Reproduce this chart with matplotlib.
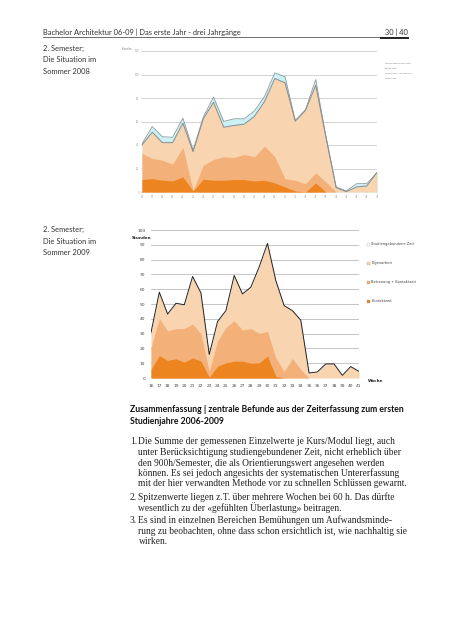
"""
Seite 30 aus dem Bericht: zwei gestapelte Flaechendiagramme (Sommer 2008/2009)
und die Zusammenfassung darunter.
"""

from matplotlib import pyplot as plt

# Farben der Schichten
layer_colors = {'kontakt': '#ec8420', 'betreuung': '#f3b179',
                'eigen': '#f9d4b0', 'studgeb': '#c9f1f6'}

# Sommer 2008 - Oberkanten der gestapelten Schichten (Stunden)
weeks_2008 = list(range(16, 40))
total_2008 = [41, 55.7, 47, 46.6, 62.9, 35.7, 63.7, 80.9, 60, 62.3, 62.3, 69,
              81.4, 101.4, 98, 60.9, 70, 95.7, 47, 4.3, 0.9, 7.1, 7.1, 16.6]
eigen_2008 = [40, 50.9, 42, 42, 58.6, 34.3, 62.3, 76.3, 55.1, 56.6, 57.7, 64.3,
              77.1, 96.6, 92.9, 60.3, 69.4, 90.9, 47, 3.7, 0.3, 4.3, 5.1, 16.6]
betreuung_2008 = [32.9, 28.6, 27.1, 23.7, 38, 1.4, 22.9, 27.7, 30, 29.4, 32,
                  30, 39.1, 30, 11.4, 10, 7.1, 16.3, 8.6, 0, 0, 0, 0, 0]
kontakt_2008 = [10.6, 11.4, 10, 9.4, 12.9, 0.9, 10.9, 10, 10, 10.6, 10.6, 9.4,
                10, 7.7, 4.3, 0.9, 0, 7.7, 0, 0, 0, 0, 0, 0]

# Sommer 2009
weeks_2009 = list(range(16, 42))
total_2009 = [30.7, 58, 43.2, 50.5, 49.5, 68.6, 57.5, 15.9, 38.2, 45.5, 69.3,
              56.8, 61.4, 75, 91, 65.9, 48.9, 45.5, 39.1, 3.4, 4.1, 9.5, 9.5,
              1.8, 7.7, 4.5]
betreuung_2009 = [20.5, 40.2, 31.8, 33.4, 33.4, 36.4, 30, 4.5, 25, 34.1, 38.6,
                  32.5, 33.4, 30.2, 31.4, 13.6, 4.5, 13.2, 5.7, 0, 0, 0, 0, 0,
                  0, 0]
kontakt_2009 = [5.7, 15.2, 11.8, 13, 10.7, 13.6, 11.4, 0.5, 8, 10.2, 11.4,
                11.4, 10, 10.2, 14.8, 1.1, 0, 0, 0, 0, 0, 0, 0, 0, 0, 0]

legend_labels = ['Studiengebundene Zeit', 'Eigenarbeit',
                 'Betreuung + Kontaktzeit', 'Kontaktzeit']

header = 'Bachelor Architektur 06-09 | Das erste Jahr - drei Jahrgänge'
heading = ['Zusammenfassung | zentrale Befunde aus der Zeiterfassung zum ersten',
           'Studienjahre 2006-2009']
items = [
    ['Die Summe der gemessenen Einzelwerte je Kurs/Modul liegt, auch',
     'unter Berücksichtigung studiengebundener Zeit, nicht erheblich über',
     'den 900h/Semester, die als Orientierungswert angesehen werden',
     'können. Es sei jedoch angesichts der systematischen Untererfassung',
     'mit der hier verwandten Methode vor zu schnellen Schlüssen gewarnt.'],
    ['Spitzenwerte liegen z.T. über mehrere Wochen bei 60 h. Das dürfte',
     'wesentlich zu der «gefühlten Überlastung» beitragen.'],
    ['Es sind in einzelnen Bereichen Bemühungen um Aufwandsminde-',
     'rung zu beobachten, ohne dass schon ersichtlich ist, wie nachhaltig sie',
     'wirken.'],
]

W, H = 452, 640
fig = plt.figure(figsize=(W / 100, H / 100), dpi=100)
sans = ['Lato', 'DejaVu Sans']
serif = ['Liberation Serif', 'DejaVu Serif']
txt = '#333333'


def fx(px):
    return px / W


def fy(py):
    return 1 - py / H


# Kopfzeile
fig.text(fx(43), fy(32), header, family=sans, fontsize=5.4, color=txt,
         va='center', ha='left')
fig.text(fx(408), fy(32), '30 | 40', family=sans, fontsize=5.4, color=txt,
         va='center', ha='right')
fig.add_artist(plt.Line2D([fx(43), fx(408)], [fy(37), fy(37)],
                          color='#555555', lw=0.6))
fig.add_artist(plt.Line2D([fx(381), fx(408)], [fy(37.5), fy(37.5)],
                          color='#222222', lw=1.4))

# Beschriftungen links
for y0, jahr in [(48, '2008'), (229.5, '2009')]:
    for i, s in enumerate(['2. Semester;', 'Die Situation im',
                           'Sommer ' + jahr]):
        fig.text(fx(43), fy(y0 + i * 11.5), s, family=sans, fontsize=5.4,
                 color=txt, va='center', ha='left')

# ---- Diagramm 2008 ----
ax1 = fig.add_axes([fx(142), fy(192), fx(377) - fx(142), fy(51) - fy(192)])
ax1.fill_between(weeks_2008, 0, total_2008, color=layer_colors['studgeb'],
                 lw=0)
ax1.plot(weeks_2008, total_2008, color='#8a9a9c', lw=0.6)
ax1.fill_between(weeks_2008, 0, eigen_2008, color=layer_colors['eigen'], lw=0)
ax1.plot(weeks_2008, eigen_2008, color='#8a8a8a', lw=0.7)
ax1.fill_between(weeks_2008, 0, betreuung_2008,
                 color=layer_colors['betreuung'], lw=0)
ax1.fill_between(weeks_2008, 0, kontakt_2008, color=layer_colors['kontakt'],
                 lw=0)
ax1.set_xlim(weeks_2008[0], weeks_2008[-1])
ax1.set_ylim(0, 120)
ax1.set_yticks(range(0, 121, 20))
ax1.set_xticks(weeks_2008)
ax1.grid(axis='y', color='#cccccc', lw=0.6)
ax1.set_axisbelow(True)
ax1.tick_params(labelsize=1.8, colors='#999999', length=1, width=0.3, pad=1)
for s in ax1.spines.values():
    s.set_visible(False)
ax1.text(-0.04, 1.0, 'Stunden', transform=ax1.transAxes, fontsize=1.8,
         color='#777777', ha='right', va='bottom')
for i, lab in enumerate(legend_labels):
    fig.text(fx(385), fy(63 + i * 5.2), lab, fontsize=1.6, color='#777777',
             va='center')

# ---- Diagramm 2009 ----
ax2 = fig.add_axes([fx(151), fy(378), fx(359) - fx(151), fy(230) - fy(378)])
ax2.fill_between(weeks_2009, 0, total_2009, color=layer_colors['eigen'], lw=0)
ax2.fill_between(weeks_2009, 0, betreuung_2009,
                 color=layer_colors['betreuung'], lw=0)
ax2.fill_between(weeks_2009, 0, kontakt_2009, color=layer_colors['kontakt'],
                 lw=0)
ax2.plot(weeks_2009, total_2009, color='#222222', lw=0.7)
ax2.set_xlim(weeks_2009[0], weeks_2009[-1])
ax2.set_ylim(0, 100)
ax2.set_yticks(range(0, 101, 10))
ax2.set_xticks(weeks_2009)
ax2.grid(axis='y', color='#bbbbbb', lw=0.6)
ax2.set_axisbelow(True)
ax2.tick_params(labelsize=3.2, colors='#444444', length=0, pad=4)
for s in ax2.spines.values():
    s.set_visible(False)
fig.text(fx(132), fy(238), 'Stunden', fontsize=3, color='#222222',
         weight='bold', va='center')
fig.text(fx(368), fy(381), 'Woche', fontsize=3, color='#222222',
         weight='bold', va='center')
leg_cols = ['white', layer_colors['eigen'], layer_colors['betreuung'],
            layer_colors['kontakt']]
for i, (lab, c) in enumerate(zip(legend_labels, leg_cols)):
    y = 244 + i * 19
    fig.patches.append(plt.Rectangle((fx(367), fy(y + 1.5)), fx(3), 3 / H,
                                     transform=fig.transFigure, facecolor=c,
                                     edgecolor='#999999', lw=0.2))
    fig.text(fx(371.5), fy(y), lab, fontsize=2.6, color='#444444',
             va='center')

# ---- Zusammenfassung ----
for i, s in enumerate(heading):
    fig.text(fx(130), fy(410 + i * 11), s, family=sans, fontsize=6.2,
             weight='bold', color='#111111', va='center')

y = 442
for n, lines in enumerate(items, start=1):
    fig.text(fx(130), fy(y), '%d.' % n, family=serif, fontsize=6.85,
             color='#222222', va='center')
    for s in lines:
        fig.text(fx(138.5), fy(y), s, family=serif, fontsize=6.85,
                 color='#222222', va='center')
        y += 10.5
    y += 2.5

fig.savefig('out.png', dpi=100)
